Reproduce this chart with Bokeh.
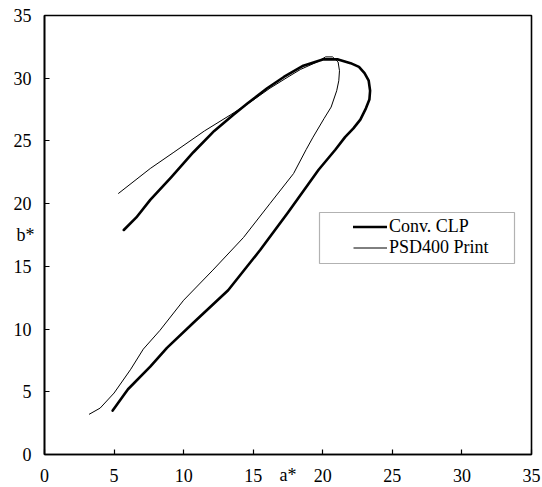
from bokeh.plotting import figure
from bokeh.models import Range1d, FixedTicker, Legend, LegendItem, BoxAnnotation
from bokeh.embed import file_html
from bokeh.resources import INLINE

# Conv. CLP (thick line)
conv_a = [5.7, 6.6, 7.6, 9.1, 10.7, 12.2, 13.6, 14.6, 16.0, 17.2, 18.6, 20.0, 21.1, 22.0, 22.6, 23.0,
          23.3, 23.4, 23.35, 23.1, 22.7, 22.2, 21.6, 20.9, 19.7, 17.5, 15.5, 13.2, 10.7, 8.8, 7.6, 6.0, 4.9]
conv_b = [17.9, 18.9, 20.3, 22.1, 24.1, 25.8, 27.1, 28.0, 29.2, 30.1, 31.0, 31.5, 31.5, 31.2, 30.9, 30.4,
          29.8, 29.0, 28.3, 27.6, 26.7, 26.0, 25.3, 24.3, 22.7, 19.3, 16.3, 13.1, 10.5, 8.5, 7.0, 5.2, 3.5]

# PSD400 Print (thin line)
psd_a = [5.3, 7.6, 9.3, 11.5, 13.4, 14.8, 16.2, 17.5, 18.4, 19.6, 20.2, 20.7, 21.1, 21.2,
         21.15, 21.0, 20.6, 20.1, 19.3, 18.8, 17.9, 16.2, 14.3, 12.1, 10.0, 8.3, 7.1, 6.2, 5.0, 4.0, 3.2]
psd_b = [20.8, 22.8, 24.1, 25.8, 27.1, 28.1, 29.2, 30.1, 30.7, 31.3, 31.7, 31.7, 31.3, 30.6,
         29.8, 29.0, 27.7, 26.8, 25.3, 24.3, 22.4, 20.0, 17.3, 14.7, 12.3, 9.9, 8.4, 6.8, 4.9, 3.7, 3.2]

ticks = [0, 5, 10, 15, 20, 25, 30, 35]
series_names = ["Conv. CLP", "PSD400 Print"]
x_title = "a*"
y_title = "b*"

FONT = "Liberation Serif"
FS = "18px"

p = figure(width=542, height=487, output_backend="svg", toolbar_location=None,
           x_range=Range1d(0, 35), y_range=Range1d(0, 35),
           min_border_left=44, min_border_right=11, min_border_top=15, min_border_bottom=33)
p.background_fill_color = "white"
p.border_fill_color = "white"
p.grid.visible = False
p.outline_line_color = "black"
p.outline_line_width = 1.6
p.outline_line_alpha = 1

for ax in (p.xaxis[0], p.yaxis[0]):
    ax.ticker = FixedTicker(ticks=ticks)
    ax.major_tick_in = 5
    ax.major_tick_out = 0
    ax.minor_tick_line_color = None
    ax.axis_line_color = "black"
    ax.axis_line_width = 1.6
    ax.major_tick_line_color = "black"
    ax.major_tick_line_width = 1.2
    ax.major_label_text_font = FONT
    ax.major_label_text_font_size = FS
    ax.major_label_text_color = "black"
    ax.axis_label_text_font = FONT
    ax.axis_label_text_font_size = FS
    ax.axis_label_text_font_style = "normal"
    ax.axis_label_text_color = "black"

p.xaxis[0].major_label_standoff = 14
p.yaxis[0].major_label_standoff = 13
p.xaxis[0].axis_label = x_title
p.xaxis[0].axis_label_standoff = -20
p.yaxis[0].axis_label = y_title
p.yaxis[0].axis_label_orientation = "horizontal"
p.yaxis[0].axis_label_standoff = -24

r_conv = p.line(conv_a, conv_b, line_color="black", line_width=2.6, line_join="round", line_cap="round")
r_psd = p.line(psd_a, psd_b, line_color="black", line_width=1.0, line_join="round")

p.add_layout(BoxAnnotation(left=275, right=470, bottom=191, top=242,
                           left_units="screen", right_units="screen",
                           bottom_units="screen", top_units="screen",
                           fill_color="white", fill_alpha=1,
                           line_color="black", line_width=1.2))

legend = Legend(items=[LegendItem(label=series_names[0], renderers=[r_conv]),
                       LegendItem(label=series_names[1], renderers=[r_psd])],
                location=(309, 196), padding=0, margin=0, spacing=0,
                glyph_width=34, glyph_height=21, label_height=21, label_standoff=2,
                border_line_alpha=0, background_fill_alpha=0,
                label_text_font=FONT, label_text_font_size=FS, label_text_color="black")
p.add_layout(legend)

open("out.html", "w").write(file_html(p, INLINE))
